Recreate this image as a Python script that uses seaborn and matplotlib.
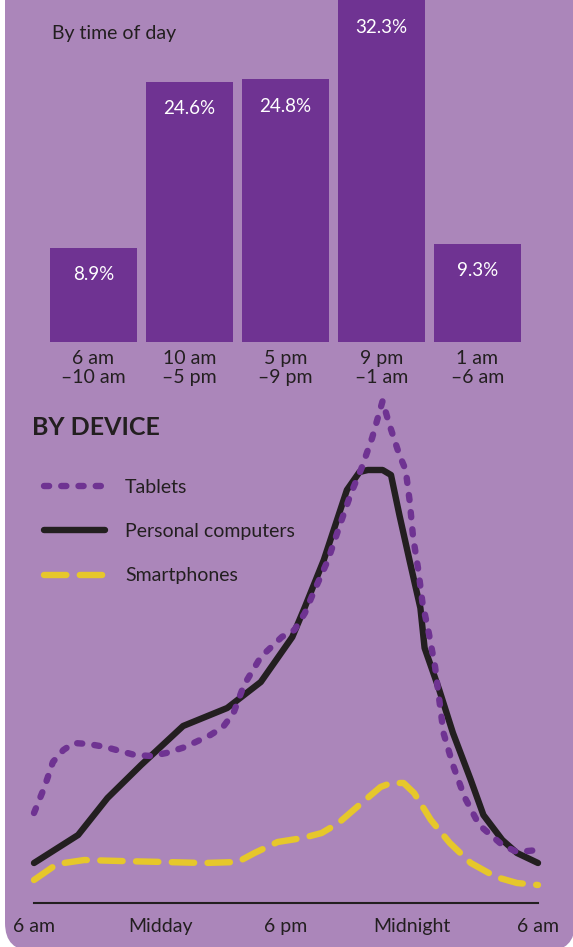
import matplotlib
matplotlib.use("Agg")
import matplotlib.pyplot as plt
from matplotlib.patches import FancyBboxPatch
from matplotlib.transforms import IdentityTransform
import seaborn as sns

# Share of time spent by slot (top panel)
time_slots = ["6 am\n–10 am", "10 am\n–5 pm", "5 pm\n–9 pm", "9 pm\n–1 am", "1 am\n–6 am"]
share_pct = [8.9, 24.6, 24.8, 32.3, 9.3]

# Device curves, hours after 6 am vs relative activity
pc_hours = [0, 2.1, 3.5, 5.1, 7.1, 9.2, 10.8, 12.3, 12.9, 13.8, 14.9, 15.5, 15.9,
            16.6, 17.0, 17.4, 17.9, 18.4, 18.6, 19.3, 19.95, 20.8, 21.4, 22.3, 23.0, 24]
pc_level = [8.0, 13.6, 21, 27.6, 35.4, 39, 44.2, 53.2, 59.2, 68.6, 82.6, 86.2, 86.6,
            86.6, 85.6, 77.6, 68.2, 59, 51, 42.6, 34, 24.6, 17.6, 12.6, 10, 8]

tab_hours = [0, 0.5, 0.9, 1.4, 1.9, 2.6, 3.4, 4.1, 4.8, 5.6, 6.3, 7.2, 8.4, 9.0, 9.5,
             10.0, 10.8, 11.8, 12.4, 12.9, 13.3, 14.0, 14.6, 15.1, 15.6, 16.1, 16.6,
             16.9, 17.4, 17.7, 17.9, 18.05, 18.3, 18.5, 18.8, 19.1, 19.3, 19.5, 19.95,
             20.5, 21.2, 22.3, 23.0, 24]
tab_level = [18, 23.2, 28.2, 30.6, 32, 31.8, 31.2, 30.4, 29.6, 29.4, 30, 31.2, 33.6, 35.2, 38,
             43.6, 49.2, 53.2, 54.6, 58, 62, 68.6, 76, 82, 87, 93, 100.4,
             96, 89.6, 86.6, 80, 73.2, 66.6, 60, 54, 47.2, 40.6, 34, 27.6,
             21.2, 15.6, 11.6, 10.2, 10.6]

ph_hours = [0, 1.1, 2.4, 4.1, 6.2, 8.1, 9.7, 10.5, 11.6, 12.8, 13.7, 14.5, 15.6, 16.5,
            17.0, 17.6, 18.1, 18.9, 19.8, 20.8, 22.0, 23.0, 24]
ph_level = [4.6, 7.8, 8.6, 8.4, 8.2, 8.0, 8.2, 10, 12.2, 13, 14, 16, 20, 23.2,
            24, 24, 22, 16.6, 12, 8, 5.2, 4, 3.6]

tick_hours = [0, 6, 12, 18, 24]
tick_names = ["6 am", "Midday", "6 pm", "Midnight", "6 am"]

BG = "#ab86ba"
PURPLE = "#6f3392"
INK = "#231f20"
YELLOW = "#e6c72b"

sns.set_style("white")
plt.rcParams["font.family"] = ["Lato", "DejaVu Sans"]

W, H = 573, 947
fig = plt.figure(figsize=(W / 100, H / 100), dpi=100)
fig.patch.set_facecolor("white")

# lilac card, only the bottom corners are rounded inside the frame
card = FancyBboxPatch((5, -4), 570, 1000, boxstyle="round,pad=0,rounding_size=28",
                      transform=IdentityTransform(), facecolor=BG, edgecolor="none", zorder=0)
fig.add_artist(card)

# --- top panel: bars ---
ax1 = fig.add_axes([45.5 / W, (H - 342) / H, 480 / W, 342 / H])
ax1.set_facecolor("none")
sns.barplot(x=time_slots, y=share_pct, color=PURPLE, saturation=1, width=0.906,
            edgecolor="none", linewidth=0, ax=ax1)
ax1.set_xlim(-0.5, 4.5)
ax1.set_ylim(0, 32.3)
for i, v in enumerate(share_pct):
    ax1.annotate(f"{v}%", (i, v), xytext=(0, -19.5), textcoords="offset points",
                 ha="center", va="center", color="white", fontsize=13.5)
ax1.set_yticks([])
ax1.tick_params(axis="x", length=0, pad=6, labelsize=14, labelcolor=INK)
for lab in ax1.get_xticklabels():
    lab.set_linespacing(1.12)
sns.despine(ax=ax1, left=True, bottom=True)

fig.text(52 / W, 1 - 33.5 / H, "By time of day", fontsize=14, color=INK, va="center", ha="left")
fig.text(32 / W, 1 - 427 / H, "BY DEVICE", fontsize=18, fontweight="bold", color=INK,
         va="center", ha="left")

# --- bottom panel: device lines ---
ax2 = fig.add_axes([34 / W, 44 / H, 504 / W, 508 / H])
ax2.set_facecolor("none")
sns.lineplot(x=pc_hours, y=pc_level, ax=ax2, color=INK, lw=4.6,
             solid_capstyle="round", label="Personal computers", clip_on=False)
sns.lineplot(x=tab_hours, y=tab_level, ax=ax2, color=PURPLE, lw=4.6,
             linestyle=(0, (0.8, 1.9)), dash_capstyle="round", label="Tablets", clip_on=False)
sns.lineplot(x=ph_hours, y=ph_level, ax=ax2, color=YELLOW, lw=4.6,
             linestyle=(0, (3.5, 2.1)), dash_capstyle="round", label="Smartphones", clip_on=False)
ax2.set_xlim(0, 24)
ax2.set_ylim(0, 101.6)
ax2.set_yticks([])
ax2.set_xticks(tick_hours)
ax2.set_xticklabels(tick_names)
ax2.tick_params(axis="x", length=0, pad=11, labelsize=14, labelcolor=INK)
sns.despine(ax=ax2, left=True)
ax2.spines["bottom"].set_color(INK)
ax2.spines["bottom"].set_linewidth(1.5)

handles, labels = ax2.get_legend_handles_labels()
order = [1, 0, 2]
ax2.legend([handles[i] for i in order], [labels[i] for i in order],
           loc="upper left", bbox_to_anchor=(44 / W, 1 - 479 / H), bbox_transform=fig.transFigure,
           frameon=False, fontsize=14, handlelength=3.14, handletextpad=1.03,
           labelspacing=1.4, borderpad=0, borderaxespad=0, labelcolor=INK)

fig.savefig("out.png", dpi=100, facecolor=fig.get_facecolor())
